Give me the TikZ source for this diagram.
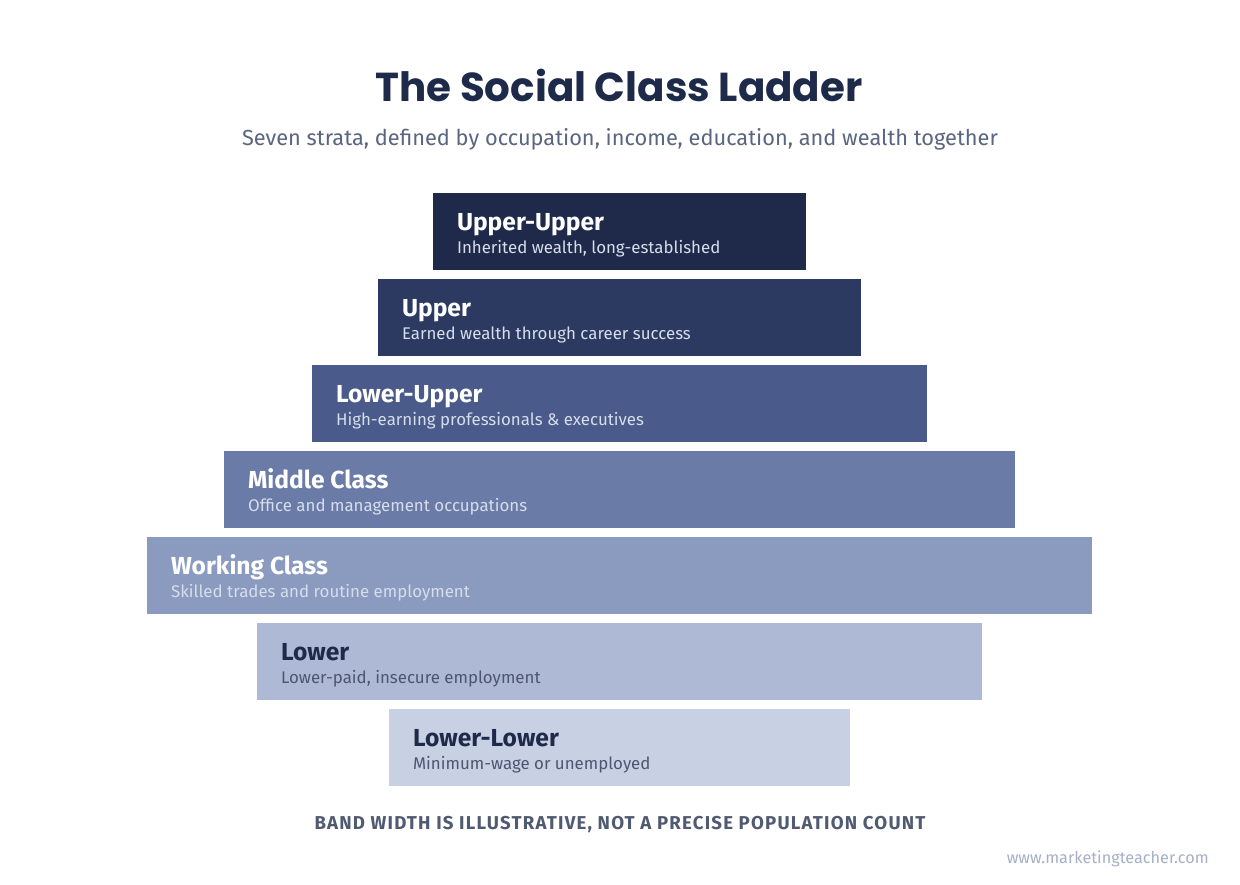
\documentclass[tikz,border=0pt]{standalone}
\usepackage{fontspec}
\setmainfont{Fira Sans}
\newfontfamily\titlefont{Poppins}
\usetikzlibrary{calc,positioning}

\definecolor{navy}{HTML}{1E2A4A}
\definecolor{bandA}{HTML}{1F2A4A}
\definecolor{bandB}{HTML}{2C3A62}
\definecolor{bandC}{HTML}{4A5A8A}
\definecolor{bandD}{HTML}{6B7BA8}
\definecolor{bandE}{HTML}{8B9BC0}
\definecolor{bandF}{HTML}{ADB9D5}
\definecolor{bandG}{HTML}{C8D1E3}
\definecolor{subgrey}{HTML}{5A6580}
\definecolor{lightsub}{HTML}{D6DDEB}
\definecolor{darksub}{HTML}{4C5670}
\definecolor{footgrey}{HTML}{505A70}
\definecolor{markgrey}{HTML}{A6AFC6}

\tikzset{
  band/.style={rectangle, inner sep=0pt, minimum height=1.54cm},
  bandtitle/.style={anchor=base west, inner sep=0pt, font=\fontsize{14}{16}\selectfont\bfseries},
  bandnote/.style={anchor=base west, inner sep=0pt, font=\fontsize{9.6}{11}\selectfont},
}

\begin{document}
\begin{tikzpicture}[x=0.02cm,y=-0.02cm]
    \useasboundingbox (0,0) rectangle (1240,885);
    \fill[white] (0,0) rectangle (1240,885);

    % Heading
    \node[inner sep=0pt, text=navy, font=\titlefont\fontsize{23}{28}\selectfont\bfseries] (title) at (619,85) {The Social Class Ladder};
    \node[inner sep=0pt, text=subgrey, font=\fontsize{12.4}{15}\selectfont] (subtitle) at (620,139) {Seven strata, defined by occupation, income, education, and wealth together};

    % Band 1: Upper-Upper
    \node[band, fill=bandA, minimum width=7.46cm] (uu) at (619.5,231.5) {};
    \node[bandtitle, text=white] (uuT) at ($(uu.north west)+(24,38)$) {Upper-Upper};
    \node[bandnote, text=lightsub] (uuN) at ($(uu.north west)+(24,61)$) {Inherited wealth, long-established};

    % Band 2: Upper
    \node[band, fill=bandB, minimum width=9.66cm] (up) at (619.5,317.5) {};
    \node[bandtitle, text=white] (upT) at ($(up.north west)+(24,38)$) {Upper};
    \node[bandnote, text=lightsub] (upN) at ($(up.north west)+(24,61)$) {Earned wealth through career success};

    % Band 3: Lower-Upper
    \node[band, fill=bandC, minimum width=12.30cm] (lu) at (619.5,403.5) {};
    \node[bandtitle, text=white] (luT) at ($(lu.north west)+(24,38)$) {Lower-Upper};
    \node[bandnote, text=lightsub] (luN) at ($(lu.north west)+(24,61)$) {High-earning professionals \& executives};

    % Band 4: Middle Class
    \node[band, fill=bandD, minimum width=15.82cm] (mc) at (619.5,489.5) {};
    \node[bandtitle, text=white] (mcT) at ($(mc.north west)+(24,38)$) {Middle Class};
    \node[bandnote, text=lightsub] (mcN) at ($(mc.north west)+(24,61)$) {Office and management occupations};

    % Band 5: Working Class
    \node[band, fill=bandE, minimum width=18.90cm] (wc) at (619.5,575.5) {};
    \node[bandtitle, text=white] (wcT) at ($(wc.north west)+(24,38)$) {Working Class};
    \node[bandnote, text=lightsub] (wcN) at ($(wc.north west)+(24,61)$) {Skilled trades and routine employment};

    % Band 6: Lower
    \node[band, fill=bandF, minimum width=14.50cm] (lo) at (619.5,661.5) {};
    \node[bandtitle, text=navy] (loT) at ($(lo.north west)+(24,38)$) {Lower};
    \node[bandnote, text=darksub] (loN) at ($(lo.north west)+(24,61)$) {Lower-paid, insecure employment};

    % Band 7: Lower-Lower
    \node[band, fill=bandG, minimum width=9.22cm] (ll) at (619.5,747.5) {};
    \node[bandtitle, text=navy] (llT) at ($(ll.north west)+(24,38)$) {Lower-Lower};
    \node[bandnote, text=darksub] (llN) at ($(ll.north west)+(24,61)$) {Minimum-wage or unemployed};

    % Footnote and source
    \node[inner sep=0pt, text=footgrey, font=\fontsize{10.6}{12}\selectfont\bfseries\addfontfeature{LetterSpace=6.5}] (foot) at (620,825) {BAND WIDTH IS ILLUSTRATIVE, NOT A PRECISE POPULATION COUNT};
    \node[inner sep=0pt, anchor=east, text=markgrey, font=\fontsize{9.25}{11}\selectfont] (mark) at (1209,859) {www.marketingteacher.com};
\end{tikzpicture}
\end{document}
